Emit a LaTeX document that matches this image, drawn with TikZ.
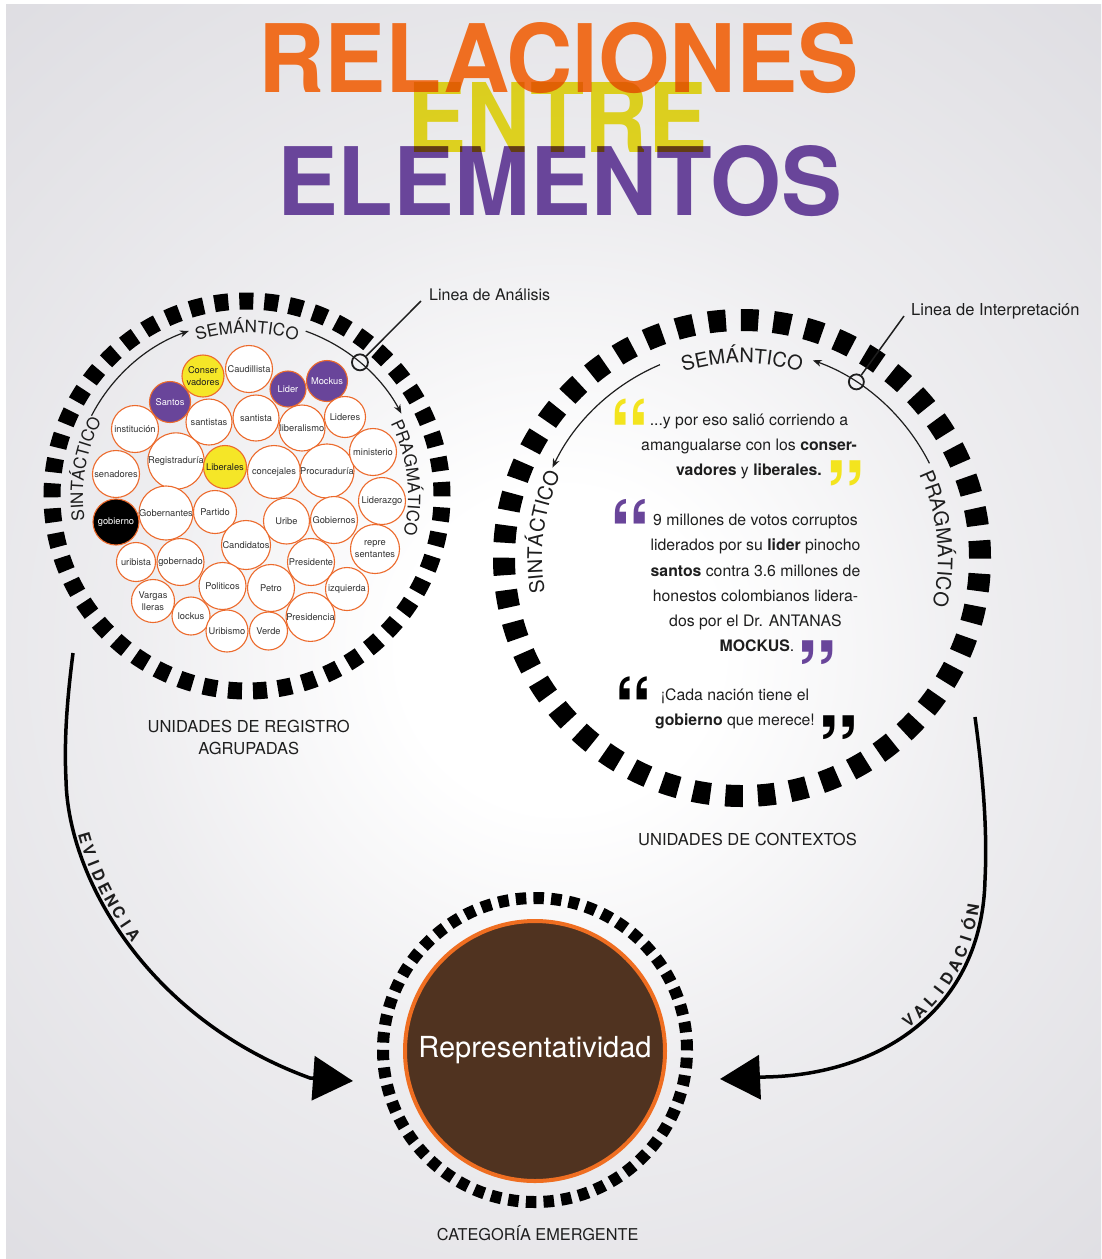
\documentclass[tikz,border=0pt]{standalone}
\usepackage{fontspec}
\usepackage{graphicx}
\setmainfont{TeX Gyre Heros}
\usetikzlibrary{arrows.meta,decorations.text,calc}
\definecolor{bggray}{HTML}{DCDBE0}
\colorlet{bgmid}{white!50!bggray}
\definecolor{torange}{HTML}{EF6E21}
\definecolor{tyellowT}{HTML}{F0E322}
\definecolor{cborder}{HTML}{EC6A2C}
\definecolor{tyellow}{HTML}{F5E627}
\definecolor{qyellow}{HTML}{F3E41E}
\definecolor{tpurple}{HTML}{69459A}
\definecolor{brownfill}{HTML}{503320}
\definecolor{txt}{HTML}{1E1E1E}
\definecolor{ctxt}{HTML}{333333}
\pgfdeclareradialshading{bgshade}{\pgfpoint{0bp}{0bp}}{color(0bp)=(white); color(4bp)=(white); color(11bp)=(bgmid); color(23bp)=(bggray); color(50bp)=(bggray)}
\newcommand\cf{\fontsize{9.3pt}{11.5pt}\selectfont}
\newcommand\lf{\fontsize{16.5pt}{18pt}\selectfont}
\newcommand\qf{\fontsize{15.8pt}{25pt}\selectfont}
\newcommand\arcL{\fontsize{17pt}{17pt}\selectfont}
\newcommand\arcR{\fontsize{20pt}{20pt}\selectfont}
\newcommand\evf{\fontsize{16pt}{16pt}\selectfont\bfseries}
\newcommand\qopen{\fontsize{100pt}{100pt}\selectfont\bfseries\raisebox{-0.47em}[0.248em][0pt]{\kern-0.032em “\kern-0.032em}}
\newcommand\qclose{\fontsize{100pt}{100pt}\selectfont\bfseries\raisebox{-0.445em}[0.273em][0pt]{\kern-0.032em ”\kern-0.032em}}
\begin{document}
\begin{tikzpicture}[x=1pt,y=1pt,
  thinarc/.style={draw=txt,line width=1.2pt,-{Stealth[length=9pt,width=7pt]}},
  bigcurve/.style={draw=black,line width=3.5pt,-{Triangle[length=40pt,width=44pt]}},
  cbase/.style={circle,draw=cborder,line width=1.1pt,inner sep=0pt,align=center,font=\cf},
  cw/.style={cbase,fill=white,text=ctxt},
  cy/.style={cbase,fill=tyellow,text=txt},
  cp/.style={cbase,fill=tpurple,text=white},
  cb/.style={cbase,fill=black,text=white},
  lbl/.style={inner sep=0pt,text=txt,font=\lf,anchor=base},
  qline/.style={inner sep=0pt,anchor=base,text=txt,font=\qf},
  qmark/.style={inner sep=0pt,anchor=north west},
  smallring/.style={circle,draw=txt,line width=1.8pt,inner sep=0pt},
  evl/.style={sloped,above=3.5pt,inner sep=0pt,font=\evf,text=txt},
  ttl/.style={inner sep=0pt,anchor=base west}
]
% background
\fill[white] (0,0) rectangle (1102,-1259);
\fill[bggray] (6,-4) rectangle (1101,-1258);
\begin{scope}
\clip (6,-4) rectangle (1101,-1258);
\shade[shading=bgshade] (560,-650) circle[radius=1000];
\end{scope}
\useasboundingbox (0,0) rectangle (1102,-1259);

% title
\node[ttl,text=torange] (t1) at (258,-92) {\resizebox{600pt}{70pt}{\bfseries RELACIONES}};
\node[ttl,text=tpurple] (t3) at (277,-215) {\resizebox{565pt}{70pt}{\bfseries ELEMENTOS}};
\begin{scope}[blend mode=multiply]
\node[ttl,text=tyellowT] (t2) at (407,-152) {\resizebox{300pt}{70pt}{\bfseries ENTRE}};
\end{scope}

% centres
\coordinate (L) at (247,-496);
\coordinate (R) at (742,-558);
\coordinate (B) at (535,-1050);

% rings
\draw[line width=17pt,dash pattern=on 14pt off 11pt] (L) circle[radius=195];
\draw[line width=22pt,dash pattern=on 17.5pt off 15pt] (R) circle[radius=238];
\draw[line width=12pt,dash pattern=on 10.5pt off 7.18pt] (B) circle[radius=152];

% left thin arcs and labels
\draw[thinarc] ($(L)+(152.7:175)$) arc[start angle=152.7,end angle=109.4,radius=175];
\draw[thinarc] ($(L)+(70.4:175)$) arc[start angle=70.4,end angle=28.1,radius=175];
\node[smallring,minimum size=16pt] (la) at ($(L)+(49.8:175)$) {};
\node[inner sep=0pt,anchor=base west,text=txt,font=\fontsize{16pt}{16pt}\selectfont] (latxt) at (429,-300.5) {Linea de Análisis};
\coordinate (lap) at (421,-301);
\draw[txt,line width=1.5pt] (lap) -- (la);
\path[decorate,decoration={text along path,text={|\arcL|SEMÁNTICO},text align=center,text color=txt}] ($(L)+(125:163)$) arc[start angle=125,end angle=55,radius=163];
\path[decorate,decoration={text along path,text={|\arcL|PRAGMÁTICO},text align=center,text color=txt}] ($(L)+(41.6:161)$) arc[start angle=41.6,end angle=-28.4,radius=161];
\path[decorate,decoration={text along path,text={|\arcL|SINTÁCTICO},text align=center,text color=txt}] ($(L)+(205.5:164)$) arc[start angle=205.5,end angle=135.5,radius=164];

% right thin arcs and labels
\draw[thinarc] ($(R)+(26.8:210)$) arc[start angle=26.8,end angle=70.3,radius=210];
\draw[thinarc] ($(R)+(113:210)$) arc[start angle=113,end angle=154.5,radius=210];
\node[smallring,minimum size=15pt] (li) at ($(R)+(57:210)$) {};
\node[inner sep=0pt,anchor=base west,text=txt,font=\fontsize{16.5pt}{16.5pt}\selectfont] (litxt) at (911,-315) {Linea de Interpretación};
\coordinate (lip) at (904,-316);
\draw[txt,line width=1.5pt] (lip) -- (li);
\path[decorate,decoration={text along path,text={|\arcR|SEMÁNTICO},text align=center,text color=txt}] ($(R)+(125:195)$) arc[start angle=125,end angle=55,radius=195];
\path[decorate,decoration={text along path,text={|\arcR|PRAGMÁTICO},text align=center,text color=txt}] ($(R)+(40.7:196)$) arc[start angle=40.7,end angle=-29.3,radius=196];
\path[decorate,decoration={text along path,text={|\arcR|SINTÁCTICO},text align=center,text color=txt}] ($(R)+(207.6:200)$) arc[start angle=207.6,end angle=137.6,radius=200];

% cluster of registro units
\node[cw,minimum size=47pt] (c2) at (249,-369) {Caudillista};
\node[cy,minimum size=42pt] (c1) at (203,-376) {Conser\\vadores};
\node[cw,minimum size=46pt] (c6) at (209,-422) {santistas};
\node[cw,minimum size=46pt] (c7) at (256,-418) {santista};
\node[cw,minimum size=46pt] (c8) at (302,-428) {liberalismo};
\node[cp,minimum size=36pt] (c3) at (288,-389) {Lider};
\node[cp,minimum size=41pt] (c4) at (327,-381) {Mockus};
\node[cw,minimum size=41pt] (c9) at (345,-417) {Lideres};
\node[cp,minimum size=41pt] (c5) at (170,-402) {Santos};
\node[cw,minimum size=47pt] (c10) at (135,-429) {institución};
\node[cw,minimum size=54pt] (c11) at (176,-461) {Registraduría};
\node[cw,minimum size=53pt] (c13) at (274,-472) {concejales};
\node[cw,minimum size=50pt] (c14) at (327,-471) {Procuraduría};
\node[cy,minimum size=43pt] (c12) at (225,-467) {Liberales};
\node[cw,minimum size=47pt] (c15) at (373,-452) {ministerio};
\node[cw,minimum size=47pt] (c16) at (116,-474) {senadores};
\node[cw,minimum size=47pt] (c17) at (382,-501) {Liderazgo};
\node[cw,minimum size=51pt] (c19) at (166,-513) {Gobernantes};
\node[cb,minimum size=46pt] (c18) at (116,-522) {gobierno};
\node[cw,minimum size=43pt] (c20) at (215,-512) {Partido};
\node[cw,minimum size=46pt] (c21) at (286.5,-521) {Uribe};
\node[cw,minimum size=47pt] (c22) at (334,-520) {Gobiernos};
\node[cw,minimum size=49pt] (c23) at (246,-545) {Candidatos};
\node[cw,minimum size=49pt] (c24) at (375,-549) {repre\\sentantes};
\node[cw,minimum size=39pt] (c25) at (136,-562) {uribista};
\node[cw,minimum size=47pt] (c26) at (180.5,-562) {gobernado};
\node[cw,minimum size=47pt] (c27) at (311,-562) {Presidente};
\node[cw,minimum size=47pt] (c28) at (222.5,-586) {Politicos};
\node[cw,minimum size=47pt] (c29) at (271,-588) {Petro};
\node[cw,minimum size=43pt] (c30) at (347,-589) {izquierda};
\node[cw,minimum size=43pt] (c31) at (153,-601) {Vargas\\lleras};
\node[cw,minimum size=38pt] (c32) at (191,-616) {lockus};
\node[cw,minimum size=47pt] (c33) at (310.5,-617) {Presidencia};
\node[cw,minimum size=42pt] (c34) at (227,-631) {Uribismo};
\node[cw,minimum size=38pt] (c35) at (268.5,-631) {Verde};

% quotes in right circle
\node[qmark,text=qyellow] (q1o) at (612,-400) {\resizebox{35pt}{25pt}{\qopen}};
\node[qline] (q1a) at (749,-425) {...y por eso salió corriendo a};
\node[qline] (q1b) at (749,-450) {amangualarse con los \textbf{conser-}};
\node[qline] (q1c) at (749,-475) {\textbf{vadores} y \textbf{liberales.}};
\node[qmark,text=qyellow] (q1x) at (828,-462) {\resizebox{35pt}{26.5pt}{\qclose}};

\node[qmark,text=tpurple] (q2o) at (612,-500) {\resizebox{36pt}{23.5pt}{\qopen}};
\node[qline] (q2a) at (755.5,-525) {9 millones de votos corruptos};
\node[qline] (q2b) at (755.5,-550) {liderados por su \textbf{lider} pinocho};
\node[qline] (q2c) at (755.5,-576.7) {\textbf{santos} contra 3.6 millones de};
\node[qline] (q2d) at (755.5,-601.7) {honestos colombianos lidera-};
\node[qline] (q2e) at (755.5,-626.7) {dos por el Dr. ANTANAS};
\node[qline] (q2f) at (757,-651.7) {\textbf{MOCKUS}.};
\node[qmark,text=tpurple] (q2x) at (799,-642) {\resizebox{36pt}{25pt}{\qclose}};

\node[qmark,text=black] (q3o) at (617,-678) {\resizebox{33pt}{22pt}{\qopen}};
\node[qline] (q3a) at (735,-700) {¡Cada nación tiene el};
\node[qline] (q3b) at (735,-725) {\textbf{gobierno} que merece!};
\node[qmark,text=black] (q3x) at (820,-717) {\resizebox{36.5pt}{25pt}{\qclose}};

% section labels
\node[lbl] (ur1) at (248.7,-732.7) {UNIDADES DE REGISTRO};
\node[lbl] (ur2) at (248.8,-754) {AGRUPADAS};
\node[lbl] (uc) at (747.5,-845) {UNIDADES DE CONTEXTOS};
\node[lbl,font=\fontsize{16.3pt}{18pt}\selectfont] (ce) at (537.7,-1240) {CATEGORÍA EMERGENTE};

% emergent category
\node[circle,fill=brownfill,draw=torange,line width=4pt,minimum size=260pt,inner sep=0pt] (rep) at (535,-1051) {};
\node[inner sep=0pt,anchor=base,text=white,font=\fontsize{29pt}{29pt}\selectfont] (reptxt) at (535,-1057) {Representatividad};

% EVIDENCIA arrow
\coordinate (ev0) at (73,-653);
\coordinate (ev1) at (66,-780);
\coordinate (ev2) at (310,-1078);
\coordinate (evtip) at (353,-1081);
\draw[bigcurve] (ev0) .. controls (67,-700) and (64,-740) .. (ev1) .. controls (68,-880) and (150,-1020) .. (ev2) -- (evtip);
\path (ev1) .. controls (68,-880) and (150,-1020) .. (ev2)
  node[evl,pos=0.190] (e1) {E}
  node[evl,pos=0.230] (e2) {V}
  node[evl,pos=0.268] (e3) {I}
  node[evl,pos=0.305] (e4) {D}
  node[evl,pos=0.344] (e5) {E}
  node[evl,pos=0.382] (e6) {N}
  node[evl,pos=0.419] (e7) {C}
  node[evl,pos=0.453] (e8) {I}
  node[evl,pos=0.488] (e9) {A};

% VALIDACION arrow
\coordinate (va0) at (975,-717);
\coordinate (va1) at (985,-880);
\coordinate (va2) at (765,-1077);
\coordinate (vatip) at (720,-1079);
\draw[bigcurve] (va0) .. controls (985,-790) and (987,-840) .. (va1) .. controls (982,-1010) and (880,-1075) .. (va2) -- (vatip);
\path (va1) .. controls (982,-1010) and (880,-1075) .. (va2)
  node[evl,pos=0.510] (v1) {V}
  node[evl,pos=0.461] (v2) {A}
  node[evl,pos=0.411] (v3) {L}
  node[evl,pos=0.364] (v4) {I}
  node[evl,pos=0.316] (v5) {D}
  node[evl,pos=0.266] (v6) {A}
  node[evl,pos=0.218] (v7) {C}
  node[evl,pos=0.174] (v8) {I}
  node[evl,pos=0.128] (v9) {Ó}
  node[evl,pos=0.084] (v10) {N};
\end{tikzpicture}
\end{document}
